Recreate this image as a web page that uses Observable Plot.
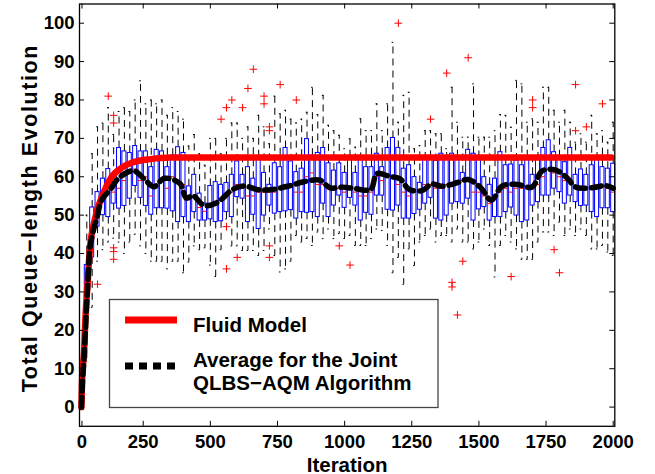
<!DOCTYPE html>
<html><head><meta charset="utf-8">
<script src="https://cdn.jsdelivr.net/npm/d3@7"></script>
<script src="https://cdn.jsdelivr.net/npm/@observablehq/plot@0.6"></script>
<style>
body{margin:0;background:#fff;}
#wrap{position:relative;width:655px;height:474px;overflow:hidden;background:#fff;}
#legend{position:absolute;left:0;top:0;pointer-events:none;}
#legend text{font-family:'Liberation Sans',Arial,sans-serif;font-weight:bold;font-size:20.5px;fill:#000;}
</style></head><body><div id="wrap"></div>
<script>
// x-axis tick positions and labels (iteration axis)
const xTickPos = [22, 250, 500, 750, 1000, 1250, 1500, 1750, 2000];
const xTickText = ["0", "250", "500", "750", "1000", "1250", "1500", "1750", "2000"];
const yTicks = [0, 10, 20, 30, 40, 50, 60, 70, 80, 90, 100];

// Box positions (iteration) and box statistics
const boxIter = [40,60,80,100,120,140,160,180,200,220,240,260,280,300,320,340,360,380,400,
  420,440,460,480,500,520,540,560,580,600,620,640,660,680,700,720,740,760,780,800,820,
  840,860,880,900,920,940,960,980,1000,1020,1040,1060,1080,1100,1120,1140,1160,1180,1200,1220,
  1240,1260,1280,1300,1320,1340,1360,1380,1400,1420,1440,1460,1480,1500,1520,1540,1560,1580,1600,1620,
  1640,1660,1680,1700,1720,1740,1760,1780,1800,1820,1840,1860,1880,1900,1920,1940,1960,1980,2000];
const boxLo = [12,26,38,41,43,44,43,40,43,45,42,40,38,38,38,36,38,38,35,
  37.8,42,41,41.5,37,34,41,49,42,42,40.8,40.8,40.8,39.5,40.8,46.4,39.5,35.2,36,38,44.7,
  43,43.9,42.1,45.6,43.9,46.4,43.9,45.2,43.9,44.7,42.1,42.1,42.1,43.9,46.4,46,42.1,35,39,32,
  41.2,36.9,43,44.7,46.4,43,44.7,44.7,43,46.4,43,43,41.2,43,46.4,42.1,33.9,42.1,44.7,43,
  41.2,38.5,38.5,38.5,43,45.6,45.6,44.7,48.2,44.7,46.4,44.7,46.4,44.7,41.2,41.2,42.1,40.4,39.5];
const boxQ1 = [27,39,47,50,49.5,53,51.7,52.4,54.3,57.6,54.5,52.4,50.1,51.8,51.8,51.7,51,48.2,49.5,
  48.2,50.8,48.6,48.6,48.9,48.2,48.4,50.8,49.5,54.7,54.3,48.2,50.1,46.4,49.9,52.5,50.4,50.8,51,51.3,49.1,
  50.8,50.6,50.8,49.5,53,49.5,52.5,55.1,51.9,54.5,52.5,48.6,50.6,50.1,55.1,55.1,51.4,51.2,52.5,49.1,
  49.1,50.3,51.4,53,54.5,49.1,48.6,49.9,53,53.4,53,54.3,48.6,51.5,52.1,48.6,49.5,49.5,50.8,52,
  49.9,48.2,48.6,52.5,53.4,55.1,55.1,56.9,56,53,55.1,53.4,52.4,52.5,50.8,49.5,51.8,51.8,50.8];
const boxMed = [32,45,51,55,56,56,57,59,61,62,59,60,55,58,59,57,60,59,58,
  54,55,52,51,53,53,54,55,56,58,57,55,55,56,56,56,56,57,58,58,56,
  56,60,61,58,58,57,57,57,56,57,56,55,55,56,60,59,60,60,58,56,
  55,56,56,58,58,57,57,58,58,59,59,59,56,56,55,53,55,56,57,56,
  57,57,57,57,58,60,62,61,60,59,59,57,57,57,57,58,58,57,56];
const boxQ3 = [37,52,56,59.5,62,59.5,67.5,66.6,66.2,68,66.6,66.6,62.5,67,66.6,62.5,65.5,67.7,66.2,
  57.5,60.5,55.6,53,57.6,58.6,57.9,58.4,60.5,64,60.5,62.5,59.5,65.1,61,57.9,63.5,62.5,67.5,64,61.2,
  62.1,69.8,65.5,66.2,67.5,63.5,61.6,63.5,61,65.1,61,64.4,62.5,62.5,66,62.5,67.5,70.1,67.5,62.1,
  63,59.9,58.4,64.5,64.9,64.1,66,64.5,66,65.1,61,67,66,64.9,59.9,57.9,59.5,66.4,63,63.2,
  64.2,63,65.1,60.5,64.5,67.5,69.5,66.4,65.1,63.8,67.5,60.5,61.9,60.5,63,64.5,62.5,62.1,63.4];
const boxHi = [50,66,73,74,78,71,77,78,77,80,85,79,80,79,80,76,78,77,75,
  68,71,66,63,70,70,66,70,74,74,70,73,70,76,73,68.6,81,76.4,77.3,75,74,
  75,76.8,83.3,76.2,81.2,73.4,72,70.8,67.3,69.9,67.7,75.1,72,72,79,72,79,95,74.2,81.2,
  82,67.3,68.1,72,72,71.2,71.2,67.3,83.3,74.2,70.3,70.3,84.2,70.3,70.3,70.3,72,76.2,76,72.9,
  85.1,84.2,74.2,75.1,74.2,83.3,83.3,77.3,74.2,77.3,74.2,69,71.2,69,76,71.2,72,69,74.2];

// Outliers (red +)
const outIter = [80,120,140,140,140,140,140,540,560,560,560,580,600,620,640,660,700,700,720,720,720,720,760,820,
  980,1020,1200,1320,1380,1400,1400,1420,1440,1460,1620,1700,1700,1780,1800,1860,1860,1900,1960];
const outVal = [32,81,76,74,41.5,40.5,38.5,75,78,47,36,80,39,78,83,88,81,79,73,72,42,39,84,80,
  42,37,100,75,87,32.5,31.3,24,38,91,34,80,78,41,35,84,72,73,79];

// Fluid model curve
const fluidIter = [20,22,30,35,43,51,72,101,132,173,214,277,350,1993];
const fluidVal = [0,6.2,14.8,23.4,32.1,40.8,49.5,55.6,59.9,62.5,63.8,64.6,65,65];

// Average for the joint QLBS-AQM algorithm
const meanIter = [20,24,29,34,39,45,51,60,78,96,128,157,213,257,290,329,386,411,435,477,528,581,625,680,732,792,848,908,946,993,
  1039,1097,1120,1167,1205,1241,1288,1325,1363,1421,1460,1506,1546,1587,1642,1697,1735,1784,1828,1861,1927,1971,2000];
const meanVal = [0,6.5,12,19,26,34,41,44.7,49.5,54,56.7,59.5,61.6,59.2,57.4,59.6,58.3,54.4,55.1,52.5,53.4,56.6,57.6,56.6,56.7,57.6,58.7,59.1,57.1,57.3,
  56.9,56.7,60.8,60.1,59.5,56.7,56.4,58.1,57.5,58.5,59.3,57.2,53.9,57.6,58.0,57.3,61.5,61.8,59.7,57.3,57.2,57.7,57];

const boxes = boxIter.map((u, i) => ({u, lo: boxLo[i], q1: boxQ1[i], med: boxMed[i], q3: boxQ3[i], hi: boxHi[i]}));
const outliers = outIter.map((u, i) => ({u, v: outVal[i]}));
const fluid = fluidIter.map((u, i) => ({u, v: fluidVal[i]}));
const mean = meanIter.map((u, i) => ({u, v: meanVal[i]}));
const xLabel = new Map(xTickPos.map((p, i) => [p, xTickText[i]]));

const W = 655, H = 474, mL = 79, mR = 40.7, mT = 3.5, mB = 48.2;
const frameW = W - mL - mR, frameH = H - mT - mB, tick = 5;
const halfBox = 7.5, halfCap = 3;
const yTitle = "Total Queue\u2212length Evolution";

const plot = Plot.plot({
  width: W, height: H,
  marginLeft: mL, marginRight: mR, marginTop: mT, marginBottom: mB,
  style: {fontFamily: "'Liberation Sans', Arial, sans-serif", fontSize: "18.5px", fontWeight: "bold", background: "white", color: "black", overflow: "visible"},
  x: {domain: [12.8, 2006]},
  y: {domain: [-5, 105]},
  marks: [
    Plot.ruleX(boxes, {x: "u", y1: "q3", y2: "hi", stroke: "black", strokeWidth: 1, strokeDasharray: "7,5"}),
    Plot.ruleX(boxes, {x: "u", y1: "q1", y2: "lo", stroke: "black", strokeWidth: 1, strokeDasharray: "7,5"}),
    Plot.ruleY(boxes, {y: "hi", x1: d => d.u - halfCap, x2: d => d.u + halfCap, stroke: "black", strokeWidth: 1}),
    Plot.ruleY(boxes, {y: "lo", x1: d => d.u - halfCap, x2: d => d.u + halfCap, stroke: "black", strokeWidth: 1}),
    Plot.rect(boxes, {x1: d => d.u - halfBox, x2: d => d.u + halfBox, y1: "q1", y2: "q3", fill: "none", stroke: "#0000ff", strokeWidth: 1}),
    Plot.ruleY(boxes, {y: "med", x1: d => d.u - halfBox, x2: d => d.u + halfBox, stroke: "#ff0000", strokeWidth: 1}),
    Plot.dot(outliers, {x: "u", y: "v", symbol: "plus", r: 2.6, stroke: "#ff0000", strokeWidth: 1}),
    Plot.line(fluid, {x: "u", y: "v", stroke: "#ff0000", strokeWidth: 6.5, curve: "monotone-x"}),
    Plot.line(mean, {x: "u", y: "v", stroke: "black", strokeWidth: 5.5, strokeDasharray: "10,6", curve: "catmull-rom"}),
    Plot.frame({stroke: "black", strokeWidth: 1.3}),
    Plot.tickX(xTickPos, {x: d => d, insetTop: frameH - tick, stroke: "black"}),
    Plot.tickX(xTickPos, {x: d => d, insetBottom: frameH - tick, stroke: "black"}),
    Plot.tickY(yTicks, {y: d => d, insetRight: frameW - tick, stroke: "black"}),
    Plot.tickY(yTicks, {y: d => d, insetLeft: frameW - tick, stroke: "black"}),
    Plot.axisX(xTickPos, {anchor: "bottom", tickSize: 0, tickPadding: 9, tickFormat: d => xLabel.get(d), label: null}),
    Plot.axisY(yTicks, {anchor: "left", tickSize: 0, tickPadding: 5, label: null}),
    Plot.text(["Iteration"], {text: d => d, frameAnchor: "bottom", dy: 45.5, lineAnchor: "bottom", textAnchor: "middle", fontSize: 20.5, fontWeight: "bold"}),
    Plot.text([yTitle], {text: d => d, frameAnchor: "left", dx: -49, dy: 3, rotate: -90, textAnchor: "middle", fontSize: 21.5, fontWeight: "bold"})
  ]
});
// widen the y title's letter spacing to match the reference's extent
d3.select(plot).selectAll("text").filter(function() { return this.textContent === yTitle; })
  .style("letter-spacing", "1.6px");
const wrap = document.getElementById("wrap");
wrap.appendChild(plot);

// Legend overlay
const ns = "http://www.w3.org/2000/svg";
const lg = document.createElementNS(ns, "svg");
lg.setAttribute("id", "legend");
lg.setAttribute("width", W); lg.setAttribute("height", H);
lg.innerHTML = `
  <rect x="109.5" y="299.5" width="328.5" height="108" fill="#fff" stroke="#444" stroke-width="1.3"/>
  <line x1="125" x2="177" y1="320" y2="320" stroke="#ff0000" stroke-width="7"/>
  <line x1="125" x2="175" y1="366" y2="366" stroke="#000" stroke-width="7" stroke-dasharray="8,6"/>
  <text x="193" y="332">Fluid Model</text>
  <text x="193" y="366.7">Average for the Joint</text>
  <text x="193" y="390">QLBS\u2212AQM Algorithm</text>`;
wrap.appendChild(lg);
</script>
</body></html>
